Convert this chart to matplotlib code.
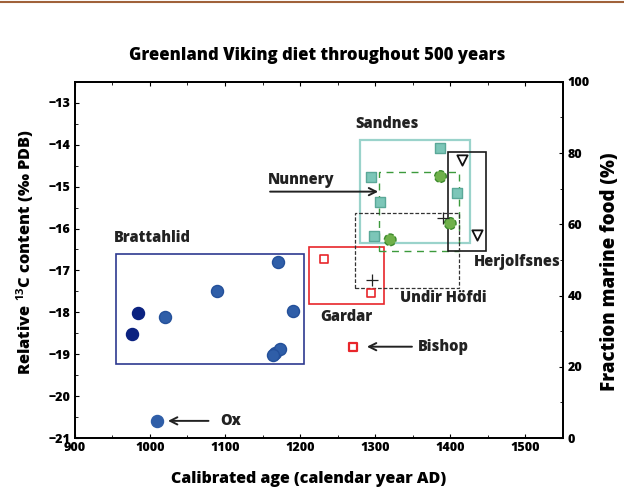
import matplotlib
matplotlib.use("Agg")
import matplotlib.pyplot as plt
from matplotlib.patches import Rectangle
from matplotlib.lines import Line2D

plt.rcParams['font.family'] = ['Open Sans', 'DejaVu Sans']
plt.rcParams['font.weight'] = 'bold'
plt.rcParams['mathtext.fontset'] = 'custom'
plt.rcParams['mathtext.bf'] = 'Open Sans:bold'

# ── Data ─────────────────────────────────────────────────────────────────────
bratt_x = [1170, 1089, 1020, 1191, 1167, 1173, 1164]
bratt_y = [-16.79, -17.49, -18.10, -17.98, -18.96, -18.88, -19.02]
bratt_dark_x = [984, 976]
bratt_dark_y = [-18.01, -18.52]
ox_x, ox_y = [1010], [-20.59]

gardar_x = [1232, 1294]
gardar_y = [-16.73, -17.55]
bishop_x, bishop_y = [1271], [-18.82]

sandnes_x = [1387, 1294, 1306, 1409, 1299]
sandnes_y = [-14.07, -14.76, -15.37, -15.16, -16.17]

nunnery_x = [1387, 1400, 1320]
nunnery_y = [-14.76, -15.88, -16.27]

herj_x = [1416, 1435]
herj_y = [-14.37, -16.16]

undir_x = [1296, 1390]
undir_y = [-17.23, -15.74]

# site boxes: (x0, x1, y0, y1)
box_bratt = (955, 1205, -19.23, -16.61)
box_gardar = (1212, 1312, -17.81, -16.45)
box_sandnes = (1280, 1426, -16.35, -13.89)
box_nunnery = (1305, 1412, -16.54, -14.64)
box_herj = (1397, 1448, -16.54, -14.17)
box_undir = (1273, 1412, -17.41, -15.64)

x_ticks = [900, 1000, 1100, 1200, 1300, 1400, 1500]
y_ticks = [-21, -20, -19, -18, -17, -16, -15, -14, -13]
marine_ticks = [0, 20, 40, 60, 80, 100]


def add_box(ax, box, **kw):
    x0, x1, y0, y1 = box
    ax.add_patch(Rectangle((x0, y0), x1 - x0, y1 - y0, fill=False, **kw))


fig = plt.figure(figsize=(6.24, 4.9), dpi=100)
ax = fig.add_axes([0.120, 0.106, 0.782, 0.727])

add_box(ax, box_bratt, edgecolor='#2d3990', linewidth=1.2)
add_box(ax, box_gardar, edgecolor='#e8262b', linewidth=1.2)
add_box(ax, box_sandnes, edgecolor='#9ad3cb', linewidth=1.6)
add_box(ax, box_nunnery, edgecolor='#3c9a3c', linewidth=1.0, linestyle=(0, (5, 4)))
add_box(ax, box_herj, edgecolor='#1a1a1a', linewidth=1.2)
add_box(ax, box_undir, edgecolor='#333333', linewidth=0.9, linestyle=(0, (3, 1.5)))

ax.scatter(bratt_x, bratt_y, s=75, color='#2f5ea8', edgecolor='#24509a', zorder=3)
ax.scatter(bratt_dark_x, bratt_dark_y, s=75, color='#0b2280', zorder=3)
ax.scatter(ox_x, ox_y, s=75, color='#2f5ea8', zorder=3)
ax.scatter(gardar_x, gardar_y, s=40, marker='s', facecolor='white', edgecolor='#e8262b', linewidth=1.2, zorder=3)
ax.scatter(bishop_x, bishop_y, s=40, marker='s', facecolor='white', edgecolor='#e8262b', linewidth=1.6, zorder=3)
ax.scatter(sandnes_x, sandnes_y, s=45, marker='s', color='#7cc6b8', edgecolor='#5aa898', zorder=3)
ax.scatter(nunnery_x, nunnery_y, s=70, color='#6fb04a', edgecolor='#3c8a2c', linestyle='--', zorder=4)
ax.scatter(herj_x, herj_y, s=55, marker='v', facecolor='white', edgecolor='#111111', linewidth=1.3, zorder=4)
ax.scatter(undir_x, undir_y, s=80, marker='+', color='#222222', linewidth=0.9, zorder=4)

lab = dict(fontsize=10.5, fontweight='heavy', color='#222222')
ax.text(1003, -16.23, 'Brattahlid', ha='center', va='center', **lab)
ax.text(1316, -13.50, 'Sandnes', ha='center', va='center', **lab)
ax.text(1262, -18.12, 'Gardar', ha='center', va='center', **lab)
ax.text(1391, -17.66, 'Undir Höfdi', ha='center', va='center', **lab)
ax.text(1489, -16.79, 'Herjolfsnes', ha='center', va='center', **lab)
ax.text(1202, -14.84, 'Nunnery', ha='center', va='center', **lab)
ax.text(1391, -18.82, 'Bishop', ha='center', va='center', **lab)
ax.text(1107, -20.59, 'Ox', ha='center', va='center', **lab)

arrow = dict(arrowstyle='->', color='#222222', lw=1.4, mutation_scale=13,
             shrinkA=0, shrinkB=0)
ax.annotate('', xy=(1304, -15.12), xytext=(1160, -15.12), arrowprops=arrow)
ax.annotate('', xy=(1289, -18.82), xytext=(1349, -18.82), arrowprops=arrow)
ax.annotate('', xy=(1024, -20.59), xytext=(1078, -20.59), arrowprops=arrow)

ax.set_xlim(900, 1550)
ax.set_ylim(-21, -12.5)
ax.set_xticks(x_ticks)
ax.set_yticks(y_ticks)
ax.set_xticks(range(950, 1550, 50), minor=True)
ax.set_yticks([v + 0.5 for v in y_ticks[:-1]], minor=True)
ax.tick_params(direction='in', labelsize=9, top=True, length=3, pad=3)
ax.tick_params(which='minor', direction='in', top=True, length=2)
for lbl in ax.get_xticklabels() + ax.get_yticklabels():
    lbl.set_fontweight('heavy')

ax2 = ax.twinx()
ax2.set_ylim(0, 100)
ax2.set_yticks(marine_ticks)
ax2.set_yticks(range(10, 100, 20), minor=True)
ax2.tick_params(direction='in', labelsize=9, length=3)
ax2.tick_params(which='minor', direction='in', length=2)
for lbl in ax2.get_yticklabels():
    lbl.set_fontweight('heavy')

for a in (ax, ax2):
    for sp in a.spines.values():
        sp.set_linewidth(1.3)

fig.text(0.509, 0.886, 'Greenland Viking diet throughout 500 years',
         ha='center', va='center', fontsize=12, fontweight='heavy')
fig.text(0.494, 0.023, 'Calibrated age (calendar year AD)',
         ha='center', va='center', fontsize=11.5, fontweight='heavy')
fig.text(0.040, 0.485, 'Relative $\\mathbf{^{13}}$C content (‰ PDB)',
         ha='center', va='center', rotation=90, fontsize=11.8, fontweight='heavy')
fig.text(0.977, 0.446, 'Fraction marine food (%)',
         ha='center', va='center', rotation=90, fontsize=13.5, fontweight='heavy')

fig.add_artist(Line2D([0, 1], [0.996, 0.996], color='#a0623a', linewidth=1.5))

fig.savefig('out.png', dpi=100)
